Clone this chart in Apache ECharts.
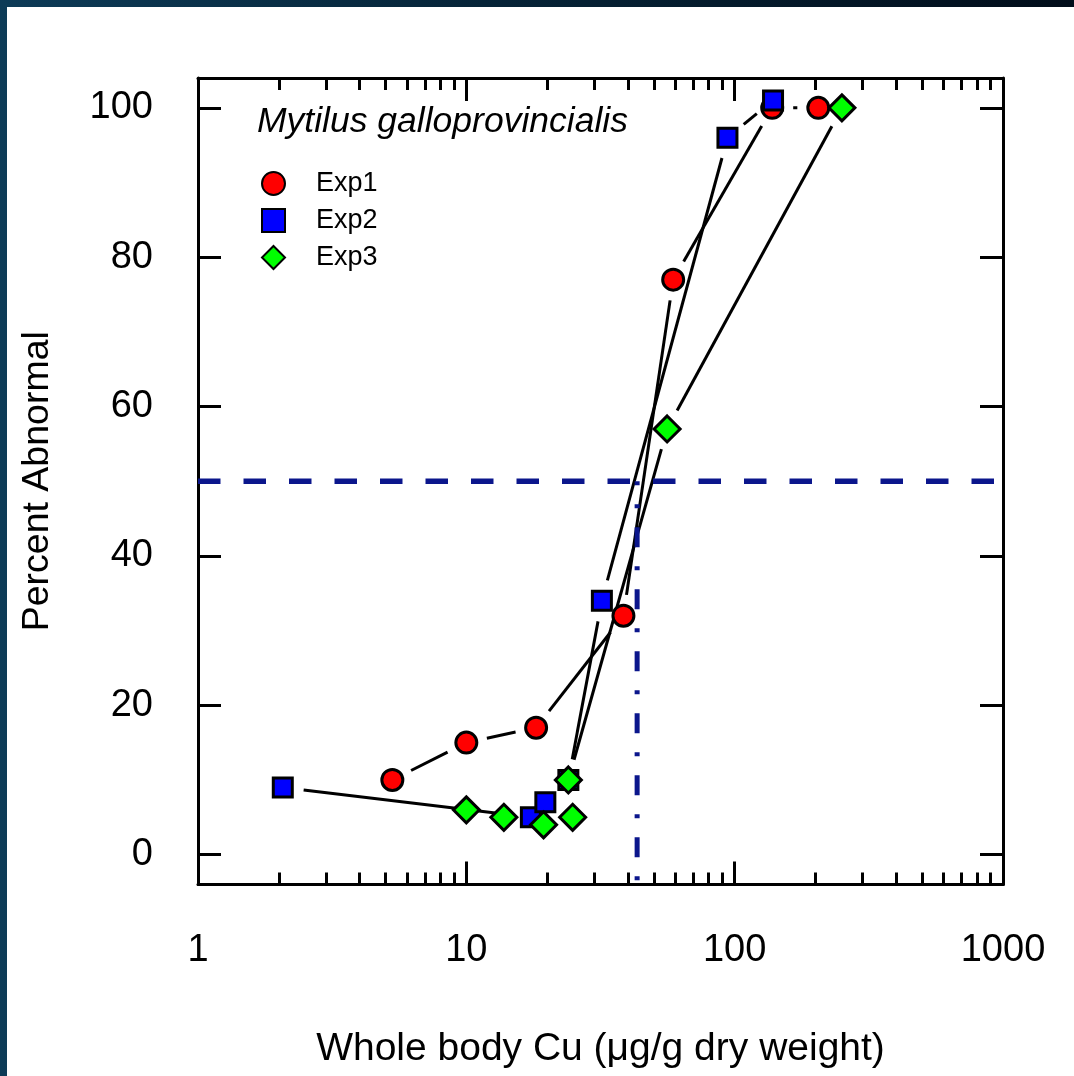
<!DOCTYPE html>
<html>
<head>
<meta charset="utf-8">
<script src="https://cdn.jsdelivr.net/npm/echarts@6/dist/echarts.min.js"></script>
<style>
  html, body { margin: 0; padding: 0; width: 1074px; height: 1076px; overflow: hidden;
    background: linear-gradient(to right, #0d3b57 0%, #062438 45%, #010d1a 100%); }
  #chart { position: absolute; left: 7px; top: 7px; width: 1067px; height: 1069px; background: #ffffff; }
</style>
</head>
<body>
<div id="chart"></div>
<script>
// Whole-body copper (µg/g dry weight) vs. percent abnormal larvae, three exposures
const exp1 = [[5.3, 10], [10, 15], [18.2, 17], [38.5, 32], [59, 77], [138, 100], [205, 100]];
const exp2 = [[2.07, 9], [17.4, 5], [19.7, 7], [24, 10], [32, 34], [94, 96], [139, 101]];
const exp3 = [[10, 6], [13.8, 5], [19.4, 4], [24.9, 5], [24, 10], [56, 57], [251, 100]];

// EC50 guide lines
const halfResponse = 50;
const ec50Cu = 43.3;

// Axis ticks and labels
const xMajorTicks = [1, 10, 100, 1000];
const xMinorTicks = [2, 3, 4, 5, 6, 7, 8, 9, 20, 30, 40, 50, 60, 70, 80, 90, 200, 300, 400, 500, 600, 700, 800, 900];
const yTicks = [0, 20, 40, 60, 80, 100];
const xRange = [1, 1000];
const yRange = [-4, 104];

const FONT = "'Liberation Sans', Arial, Helvetica, sans-serif";
const NAVY = '#0b168c';

// consecutive point pairs, drawn as segments that stop short of each marker
function segmentsOf(points) {
  const out = [];
  for (let i = 0; i < points.length - 1; i++) {
    out.push([points[i][0], points[i][1], points[i + 1][0], points[i + 1][1]]);
  }
  return out;
}

const GAP = 21;
function renderGapSegment(params, api) {
  const a = api.coord([api.value(0), api.value(1)]);
  const b = api.coord([api.value(2), api.value(3)]);
  const dx = b[0] - a[0], dy = b[1] - a[1];
  const len = Math.hypot(dx, dy);
  if (len <= 2 * GAP) return null;
  const ux = dx / len, uy = dy / len;
  return {
    type: 'line',
    shape: { x1: a[0] + ux * GAP, y1: a[1] + uy * GAP, x2: b[0] - ux * GAP, y2: b[1] - uy * GAP },
    style: { stroke: '#000', lineWidth: 3 }
  };
}

function segmentSeries(points) {
  return {
    type: 'custom', renderItem: renderGapSegment, data: segmentsOf(points),
    encode: { x: [0, 2], y: [1, 3] }, z: 2, silent: true, clip: true
  };
}

function markerSeries(name, points, symbol, size, color) {
  return {
    name: name, type: 'scatter', data: points, symbol: symbol, symbolSize: size, z: 5,
    itemStyle: { color: color, borderColor: '#000', borderWidth: 3, opacity: 1 },
    emphasis: { disabled: true }, silent: true
  };
}

const axisLineStyle = { show: true, onZero: false, lineStyle: { color: '#000', width: 3 } };
const hiddenAxisLine = { show: false, onZero: false };

function logAxis(position, ticks, tickLen, showLine, showLabel, extra) {
  return Object.assign({
    type: 'log', logBase: 10, min: xRange[0], max: xRange[1], position: position, gridIndex: 0,
    axisLine: showLine ? axisLineStyle : hiddenAxisLine,
    axisTick: { show: true, inside: true, length: tickLen, customValues: ticks, lineStyle: { color: '#000', width: 3 } },
    axisLabel: showLabel ? {
      show: true, customValues: ticks, margin: 47, fontSize: 38, fontFamily: FONT, color: '#000',
      formatter: function (v) { return String(Math.round(v)); }
    } : { show: false },
    splitLine: { show: false }, minorTick: { show: false }, minorSplitLine: { show: false }
  }, extra || {});
}

function valueAxis(position, showLabel, extra) {
  return Object.assign({
    type: 'value', min: yRange[0], max: yRange[1], position: position, gridIndex: 0,
    axisLine: axisLineStyle,
    axisTick: { show: true, inside: true, length: 23, customValues: yTicks, lineStyle: { color: '#000', width: 3 } },
    axisLabel: showLabel ? { show: true, customValues: yTicks, margin: 45, fontSize: 38, fontFamily: FONT, color: '#000' } : { show: false },
    splitLine: { show: false }
  }, extra || {});
}

const chart = echarts.init(document.getElementById('chart'), null, { renderer: 'canvas' });

chart.setOption({
  animation: false,
  backgroundColor: '#ffffff',
  textStyle: { fontFamily: FONT },
  title: {
    text: 'Mytilus galloprovincialis',
    left: 245, top: 92,
    textStyle: { fontFamily: FONT, fontStyle: 'italic', fontWeight: 'normal', fontSize: 35.5, color: '#000' }
  },
  legend: {
    data: ['Exp1', 'Exp2', 'Exp3'],
    orient: 'vertical', left: 249, top: 158,
    itemWidth: 23, itemHeight: 23, itemGap: 10,
    selectedMode: false,
    textStyle: { fontFamily: FONT, fontSize: 27, color: '#000', padding: [0, 0, 0, 26] }
  },
  grid: { left: 191, top: 71, right: 71, bottom: 191.5, containLabel: false, outerBoundsMode: 'none' },
  xAxis: [
    logAxis('bottom', xMajorTicks, 23, true, true, {
      name: 'Whole body Cu (\u03BCg/g dry weight)', nameLocation: 'middle', nameGap: 145,
      nameTextStyle: { fontFamily: FONT, fontSize: 39, color: '#000' }
    }),
    logAxis('bottom', xMinorTicks, 12, false, false),
    logAxis('top', xMajorTicks, 23, true, false),
    logAxis('top', xMinorTicks, 12, false, false)
  ],
  yAxis: [
    valueAxis('left', true, {
      name: 'Percent Abnormal', nameLocation: 'middle', nameGap: 141,
      nameTextStyle: { fontFamily: FONT, fontSize: 37.5, color: '#000' }
    }),
    valueAxis('right', false)
  ],
  series: [
    segmentSeries(exp1),
    segmentSeries(exp2),
    segmentSeries(exp3),
    {
      type: 'line', data: [[xRange[0], halfResponse], [xRange[1], halfResponse]],
      symbol: 'none', z: 3, silent: true,
      lineStyle: { color: NAVY, width: 5.5, type: [22.5, 23], cap: 'butt' }
    },
    {
      type: 'line', data: [[ec50Cu, halfResponse], [ec50Cu, yRange[0]]],
      symbol: 'none', z: 3, silent: true,
      lineStyle: { color: NAVY, width: 5, type: [20, 19, 4, 19], dashOffset: 16, cap: 'butt' }
    },
    markerSeries('Exp1', exp1, 'circle', 21, '#ff0000'),
    markerSeries('Exp2', exp2, 'rect', 19, '#0000ff'),
    markerSeries('Exp3', exp3, 'diamond', 26, '#00ff00')
  ]
});
</script>
</body>
</html>
